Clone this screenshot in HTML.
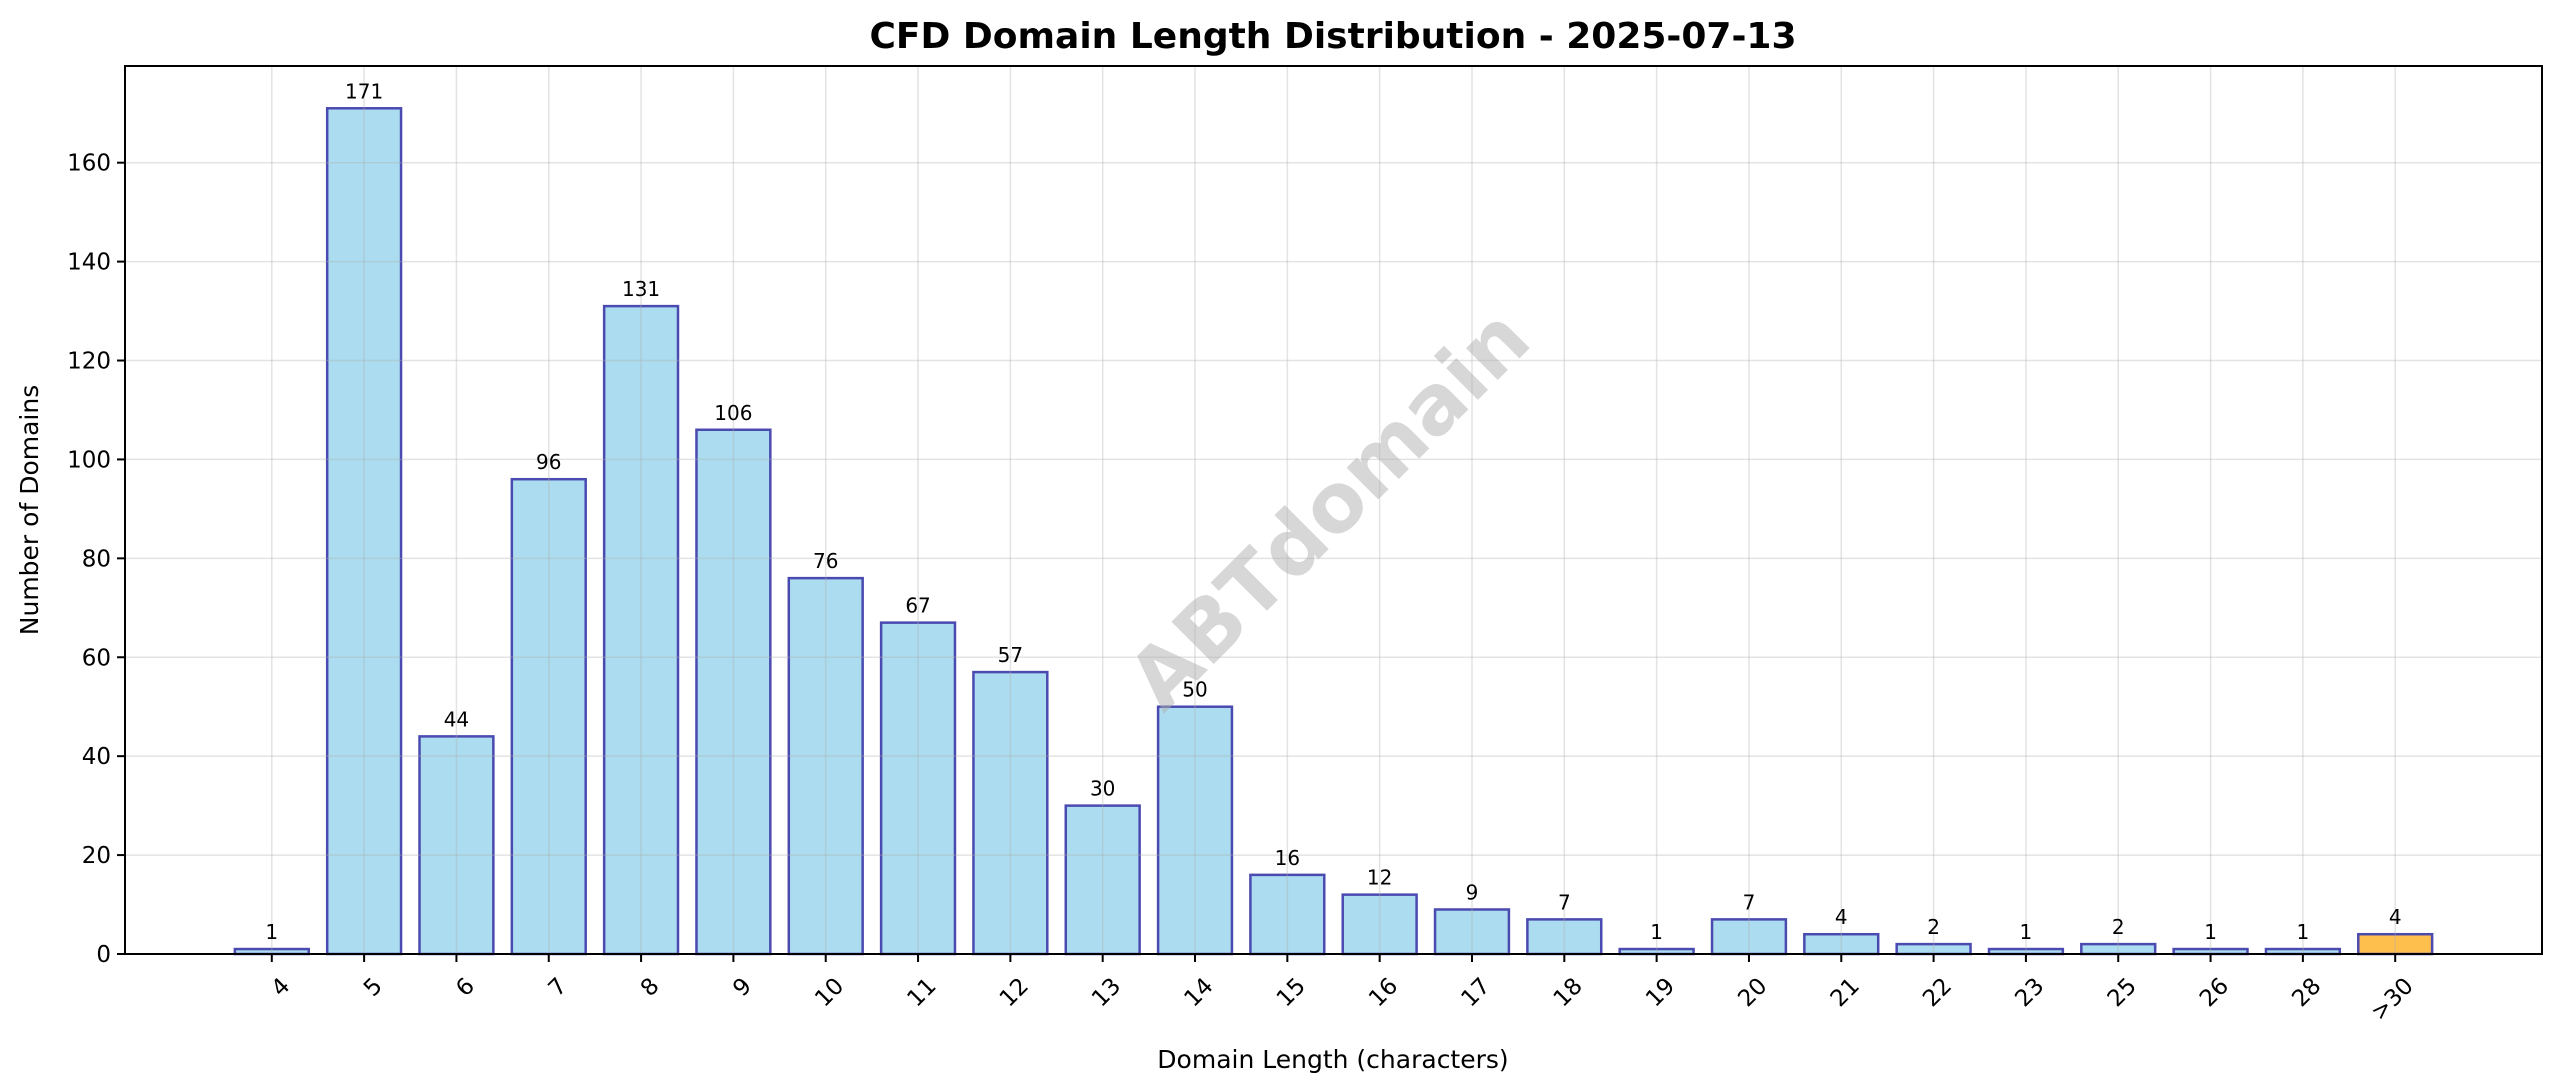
<!DOCTYPE html>
<html><head><meta charset="utf-8"><style>
html,body{margin:0;padding:0;background:#fff;}
svg{display:block;font-family:"DejaVu Sans","Liberation Sans",sans-serif;}
</style></head><body>
<svg id="chart" width="2560" height="1087" viewBox="0 0 2560 1087" xmlns="http://www.w3.org/2000/svg">
<rect width="2560" height="1087" fill="#fff"/>
<text x="1333" y="48" text-anchor="middle" font-size="36" font-weight="bold">CFD Domain Length Distribution - 2025-07-13</text>
<g id="bars"></g>
<g id="grid"></g>
<text x="1333" y="513" text-anchor="middle" dominant-baseline="middle" font-size="82" font-weight="bold" fill="#b0b0b0" fill-opacity="0.5" transform="rotate(-45 1333 513)">ABTdomain</text>
<g id="labels"></g>
<g id="yticks"></g>
<g id="xticks"></g>
<rect x="125" y="66" width="2417" height="888" fill="none" stroke="#000" stroke-width="2"/>
<text x="38" y="510" text-anchor="middle" font-size="25" transform="rotate(-90 38 510)">Number of Domains</text>
<text x="1333" y="1068" text-anchor="middle" font-size="25">Domain Length (characters)</text>
</svg>
<script>
const categories = ["4","5","6","7","8","9","10","11","12","13","14","15","16","17","18","19","20","21","22","23","25","26","28",">30"];
const counts = [1,171,44,96,131,106,76,67,57,30,50,16,12,9,7,1,7,4,2,1,2,1,1,4];
const yTicks = [0,20,40,60,80,100,120,140,160];

const NS = "http://www.w3.org/2000/svg";
const L = 125, R = 2542, T = 66, B = 954;
const n = categories.length;
const xmin = -0.4 - 0.05 * (n - 0.2), xmax = (n - 1) + 0.4 + 0.05 * (n - 0.2);
const ymax = Math.max(...counts) * 1.05;
const xs = i => L + (i - xmin) / (xmax - xmin) * (R - L);
const ys = v => B - v / ymax * (B - T);
const bw = 0.8 * (xs(1) - xs(0));
function mk(tag, attrs, parent) {
  const e = document.createElementNS(NS, tag);
  for (const k in attrs) e.setAttribute(k, attrs[k]);
  parent.appendChild(e);
  return e;
}
const gBars = document.getElementById('bars');
const gGrid = document.getElementById('grid');
const gLab = document.getElementById('labels');
const gY = document.getElementById('yticks');
const gX = document.getElementById('xticks');

counts.forEach((v, i) => {
  const last = categories[i] === ">30";
  const r = mk('rect', {x: xs(i) - bw / 2, y: ys(v), width: bw, height: B - ys(v),
    fill: last ? '#ffbf4d' : '#abdcef', stroke: '#4a4ab0', 'stroke-width': 2.5}, gBars);
  
  
  const t = mk('text', {x: xs(i), y: ys(v) - 10, 'text-anchor': 'middle', 'font-size': 20}, gLab);
  t.textContent = v;
  
  
  const g = mk('line', {x1: xs(i), x2: xs(i), y1: T, y2: B, stroke: '#b0b0b0', 'stroke-opacity': 0.35, 'stroke-width': 1.5}, gGrid);
  
  
  const tk = mk('line', {x1: xs(i), x2: xs(i), y1: B, y2: B + 8, stroke: '#000', 'stroke-width': 2}, gX);
  
  
  const lx = xs(i) + 8, ly = B + 22;
  const tl = mk('text', {x: lx, y: ly, 'text-anchor': 'end', 'dominant-baseline': 'hanging', 'font-size': 23, transform: 'rotate(-45 ' + lx + ' ' + ly + ')'}, gX);
  tl.textContent = categories[i];
  
  
});
yTicks.forEach(v => {
  const g = mk('line', {x1: L, x2: R, y1: ys(v), y2: ys(v), stroke: '#b0b0b0', 'stroke-opacity': 0.35, 'stroke-width': 1.5}, gGrid);
  
  
  const tk = mk('line', {x1: L - 8, x2: L, y1: ys(v), y2: ys(v), stroke: '#000', 'stroke-width': 2}, gY);
  
  
  const t = mk('text', {x: L - 14, y: ys(v) + 8, 'text-anchor': 'end', 'font-size': 23}, gY);
  t.textContent = v;
  
  
});
</script>
</body></html>
